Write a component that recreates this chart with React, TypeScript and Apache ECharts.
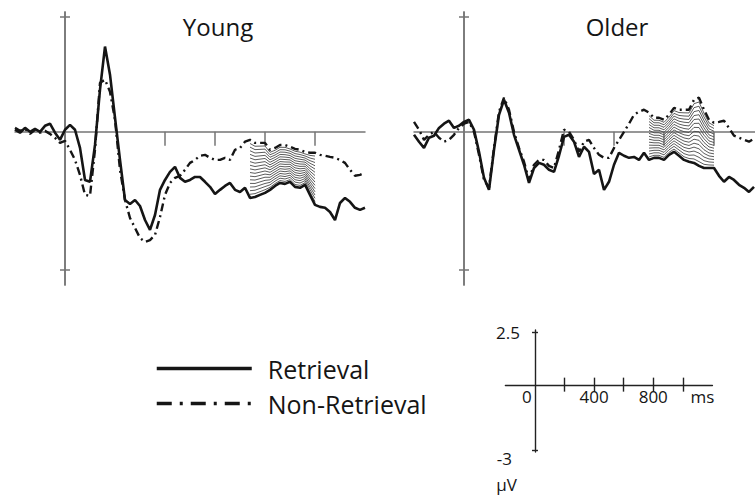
import React, { useEffect, useRef } from "react";
import * as echarts from "echarts";

// ---- data (µV), sampled every 40 ms from -400 ms ----
const START_MS = -400;
const STEP_MS = 40;

const youngRetrieval = [
  0.09, -0.04, 0.17, 0, 0.13, 0, 0.26, 0.35, -0.04, -0.35,
  0.09, 0.3, 0.09, -0.7, -2.09, -2.17, -0.57, 1.83, 3.7, 2.48,
  0.61, -1.22, -2.96, -3.13, -2.96, -3.22, -3.83, -4.26, -3.61, -2.52,
  -2.09, -1.74, -1.52, -2.0, -2.17, -2.09, -1.96, -1.96, -2.17, -2.39,
  -2.7, -2.52, -2.35, -2.22, -2.52, -2.61, -2.43, -2.87, -2.83, -2.74,
  -2.65, -2.52, -2.35, -2.22, -2.26, -2.17, -2.39, -2.43, -2.3, -2.74,
  -3.17, -3.26, -3.3, -3.48, -3.83, -3.09, -2.87, -3.04, -3.3, -3.39,
  -3.3,
];
const youngNonRetrieval = [
  0.17, 0.04, 0.13, -0.09, 0.09, -0.04, 0.04, -0.09, -0.26, -0.48,
  -0.39, -0.78, -1.22, -1.87, -2.74, -2.78, -0.78, 2.13, 2.26, 1.74,
  0.52, -1.65, -2.96, -3.74, -4.17, -4.61, -4.78, -4.7, -4.48, -3.7,
  -2.74, -2.22, -2.0, -1.91, -1.65, -1.35, -1.22, -1.04, -1.0, -1.13,
  -1.22, -1.22, -1.13, -1.22, -0.78, -0.7, -0.43, -0.35, -0.48, -0.48,
  -0.48, -0.78, -0.7, -0.57, -0.57, -0.65, -0.74, -0.78, -0.87, -0.91,
  -0.91, -1.0, -1.04, -1.09, -1.13, -1.22, -1.35, -1.65, -1.91, -1.87,
  -1.78,
];
const olderRetrieval = [
  -0.13, -0.43, -0.7, -0.26, -0.17, 0.17, 0.35, 0.48, 0.17, 0.26,
  0.43, 0.52, 0.09, -0.87, -2.0, -2.52, -0.78, 0.74, 1.39, 0.83,
  -0.13, -0.78, -1.43, -2.22, -1.57, -1.35, -1.43, -1.65, -1.74, -1.04,
  -0.22, -0.13, -0.43, -1.09, -0.65, -0.87, -1.83, -1.65, -2.52, -2.17,
  -1.43, -0.91, -1.04, -1.13, -1.09, -1.22, -0.91, -1.22, -1.13, -1.13,
  -1.22, -1.0, -0.87, -1.04, -1.22, -1.3, -1.35, -1.48, -1.57, -1.57,
  -1.57, -1.91, -2.17, -1.96, -2.09, -2.3, -2.43, -2.61, -2.39,
];
const olderNonRetrieval = [
  0.43, 0.09, -0.35, -0.13, 0, -0.26, -0.43, -0.35, -0.13, 0.17,
  0.35, 0.43, 0, -1.0, -2.09, -2.43, -0.7, 0.87, 1.48, 0.96,
  0, -0.7, -1.3, -2.09, -1.43, -1.22, -1.22, -1.48, -1.57, -0.78,
  0.09, 0, -0.35, -0.87, -0.43, -0.35, -0.7, -1.0, -1.13, -1.13,
  -0.7, -0.35, 0, 0.35, 0.74, 0.87, 0.96, 0.83, 0.61, 0.61,
  0.52, 0.74, 1.04, 0.96, 0.96, 0.96, 1.39, 1.48, 0.96, 0.52,
  0.39, 0.43, 0.48, 0.17, -0.17, -0.26, -0.35, -0.43, -0.3,
];

const panelTitles = ["Young", "Older"];
const legendNames = ["Retrieval", "Non-Retrieval"];
const panelTickMs = [800, 1200, 1600, 2000];
const panelAmpTicks = [5, -6];
const hatchWindowMs = [1480, 2000];
const scaleTickMs = [200, 400, 600, 800, 1000];
const scaleLabelMs = [0, 400, 800];
const scaleAmpTicks = [2.5, -3];
const scaleTopLabel = [2.5];
const scaleBottomLabel = "-3";

const FONT = "Open Sans";
const AXIS_GRAY = "#757575";
const INK = "#151515";
const HATCH_LINES = 16;

const toPairs = (vals: number[]) =>
  vals.map((v, i) => [START_MS + i * STEP_MS, v]);

// hatched region between the two waveforms inside the analysis window
function hatchSeries(lower: number[], upper: number[], xAxisIndex: number, yAxisIndex: number) {
  const items: number[][] = [];
  lower.forEach((lo, i) => {
    const t = START_MS + i * STEP_MS;
    if (t >= hatchWindowMs[0] && t <= hatchWindowMs[1]) items.push([t, lo, upper[i]]);
  });
  return {
    type: "custom",
    xAxisIndex,
    yAxisIndex,
    silent: true,
    z: 1,
    data: items,
    encode: { x: 0, y: [1, 2] },
    renderItem: (params: any, api: any) => {
      const i = params.dataIndex;
      if (i >= items.length - 1) return null;
      const a = items[i];
      const b = items[i + 1];
      const children: any[] = [];
      for (let k = 1; k < HATCH_LINES; k++) {
        const f = k / HATCH_LINES;
        const p1 = api.coord([a[0], a[1] + (a[2] - a[1]) * f]);
        const p2 = api.coord([b[0], b[1] + (b[2] - b[1]) * f]);
        children.push({
          type: "line",
          shape: { x1: p1[0], y1: p1[1], x2: p2[0], y2: p2[1] },
          style: { stroke: "#4a4a4a", lineWidth: 0.9 },
        });
      }
      return { type: "group", children };
    },
  };
}

function panelSeries(retrieval: number[], nonRetrieval: number[], xAxisIndex: number, yAxisIndex: number) {
  return [
    hatchSeries(retrieval, nonRetrieval, xAxisIndex, yAxisIndex),
    {
      type: "line",
      name: legendNames[0],
      xAxisIndex,
      yAxisIndex,
      data: toPairs(retrieval),
      symbol: "none",
      color: INK,
      lineStyle: { color: INK, width: 2.6 },
      z: 3,
    },
    {
      type: "line",
      name: legendNames[1],
      xAxisIndex,
      yAxisIndex,
      data: toPairs(nonRetrieval),
      symbol: "none",
      color: INK,
      lineStyle: { color: INK, width: 2.4, type: [8, 4, 2, 4] },
      z: 3,
    },
  ];
}

function panelXAxis(gridIndex: number) {
  return {
    type: "value",
    gridIndex,
    min: -400,
    max: 2400,
    position: "bottom",
    axisLine: { show: true, onZero: true, lineStyle: { color: AXIS_GRAY, width: 1.5 } },
    axisTick: {
      show: true,
      customValues: panelTickMs,
      length: 14,
      lineStyle: { color: AXIS_GRAY, width: 1.5 },
    },
    axisLabel: { show: false },
    splitLine: { show: false },
  };
}

function panelYAxes(gridIndex: number, xIdx: number) {
  const common = {
    type: "value",
    gridIndex,
    min: -6.65,
    max: 5.2,
    position: "left",
    axisLabel: { show: false },
    splitLine: { show: false },
  };
  return [
    {
      ...common,
      axisLine: { show: true, onZero: true, onZeroAxisIndex: xIdx, lineStyle: { color: AXIS_GRAY, width: 1.5 } },
      axisTick: { show: true, customValues: panelAmpTicks, length: 5, lineStyle: { color: AXIS_GRAY, width: 1.5 } },
    },
    {
      ...common,
      axisLine: { show: true, onZero: true, onZeroAxisIndex: xIdx, lineStyle: { color: AXIS_GRAY, width: 1.5 } },
      axisTick: { show: true, inside: true, customValues: panelAmpTicks, length: 5, lineStyle: { color: AXIS_GRAY, width: 1.5 } },
    },
  ];
}

// scale-bar grid geometry
const SB_LEFT = 505.4;
const SB_TOP = 330;
const SB_W = 207;
const SB_H = 122;
const SB_X = [-200, 1200];
const SB_Y = [-3.1, 2.6];

export default function App() {
  const ref = useRef<HTMLDivElement>(null);

  useEffect(() => {
    document.body.style.margin = "0";
    if (!ref.current) return;
    const chart = echarts.init(ref.current, null, { renderer: "svg" });

    const scaleLine = { color: "#222", width: 1.4 };
    const scaleText = { fontFamily: FONT, fontSize: 17, color: INK };
    // axes sit on the zero lines of the scale-bar grid
    const xOffset = -(SB_H * (0 - SB_Y[0])) / (SB_Y[1] - SB_Y[0]);
    const yOffset = -(SB_W * (0 - SB_X[0])) / (SB_X[1] - SB_X[0]);

    const titleStyle = { fontFamily: FONT, fontSize: 24, fontWeight: "normal", color: INK };

    const option: any = {
      animation: false,
      backgroundColor: "#ffffff",
      title: [
        { text: panelTitles[0], left: 218, top: 14, padding: 0, textAlign: "center", textStyle: titleStyle },
        { text: panelTitles[1], left: 617, top: 14, padding: 0, textAlign: "center", textStyle: titleStyle },
      ],
      legend: {
        orient: "vertical",
        left: 155,
        top: 356,
        padding: 0,
        itemWidth: 95,
        itemHeight: 14,
        itemGap: 10,
        selectedMode: false,
        itemStyle: { opacity: 0 },
        textStyle: { fontFamily: FONT, fontSize: 25, color: INK, padding: [0, 0, 0, 11] },
        data: [
          { name: legendNames[0], lineStyle: { color: INK, width: 3.5, type: "solid" } },
          { name: legendNames[1], lineStyle: { color: INK, width: 3.5, type: [15, 8, 3, 8] } },
        ],
      },
      graphic: [
        {
          type: "text",
          x: 512,
          y: 458,
          silent: true,
          style: {
            text: scaleBottomLabel,
            align: "right",
            verticalAlign: "middle",
            fontFamily: FONT,
            fontSize: 17,
            fill: INK,
          },
        },
      ],
      grid: [
        { left: 15, top: 12, width: 350, height: 273, containLabel: false, outerBoundsMode: "none" },
        { left: 414, top: 12, width: 350, height: 273, containLabel: false, outerBoundsMode: "none" },
        { left: SB_LEFT, top: SB_TOP, width: SB_W, height: SB_H, containLabel: false, outerBoundsMode: "none" },
      ],
      xAxis: [
        panelXAxis(0),
        panelXAxis(1),
        {
          type: "value",
          gridIndex: 2,
          min: SB_X[0],
          max: SB_X[1],
          position: "bottom",
          offset: xOffset,
          axisLine: { show: true, onZero: false, lineStyle: scaleLine },
          axisTick: { show: true, customValues: scaleTickMs, length: 6, lineStyle: scaleLine },
          axisLabel: {
            show: true,
            customValues: scaleLabelMs,
            margin: 2,
            ...scaleText,
            formatter: (v: number) => (v === 0 ? "{zero|0}" : String(v)),
            rich: { zero: { ...scaleText, padding: [0, 16, 0, 0] } },
          },
          splitLine: { show: false },
          name: "ms",
          nameLocation: "end",
          nameGap: -22,
          nameTextStyle: { ...scaleText, verticalAlign: "top", align: "left", padding: [2, 0, 0, 0] },
        },
        {
          type: "value",
          gridIndex: 2,
          min: SB_X[0],
          max: SB_X[1],
          position: "bottom",
          offset: xOffset,
          axisLine: { show: false, onZero: false },
          axisTick: { show: true, inside: true, customValues: scaleTickMs, length: 8, lineStyle: scaleLine },
          axisLabel: { show: false },
          splitLine: { show: false },
        },
      ],
      yAxis: [
        ...panelYAxes(0, 0),
        ...panelYAxes(1, 1),
        {
          type: "value",
          gridIndex: 2,
          min: SB_Y[0],
          max: SB_Y[1],
          position: "left",
          offset: yOffset,
          axisLine: { show: true, onZero: false, lineStyle: scaleLine },
          axisTick: { show: true, customValues: scaleAmpTicks, length: 3, lineStyle: scaleLine },
          axisLabel: {
            show: true,
            customValues: scaleTopLabel,
            margin: 15,
            ...scaleText,
          },
          splitLine: { show: false },
          name: "µV",
          nameLocation: "start",
          nameGap: 24,
          nameTextStyle: { ...scaleText, align: "right", verticalAlign: "top", padding: [0, 18, 0, 0] },
        },
        {
          type: "value",
          gridIndex: 2,
          min: SB_Y[0],
          max: SB_Y[1],
          position: "left",
          offset: yOffset,
          axisLine: { show: false, onZero: false },
          axisTick: { show: true, inside: true, customValues: scaleAmpTicks, length: 3, lineStyle: scaleLine },
          axisLabel: { show: false },
          splitLine: { show: false },
        },
      ],
      series: [
        ...panelSeries(youngRetrieval, youngNonRetrieval, 0, 0),
        ...panelSeries(olderRetrieval, olderNonRetrieval, 1, 2),
      ],
    };

    chart.setOption(option);
    return () => chart.dispose();
  }, []);

  return <div ref={ref} style={{ width: 755, height: 496 }} />;
}
